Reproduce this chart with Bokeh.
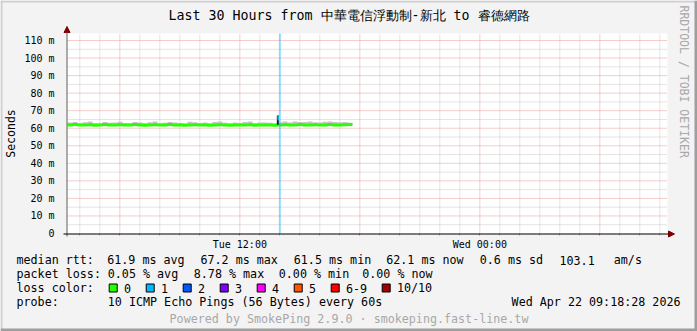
import pandas as pd
from math import pi
from bokeh.plotting import figure
from bokeh.models import (FixedTicker, Label, BoxAnnotation, Arrow, NormalHead,
                          Range1d, ColumnDataSource)
from bokeh.embed import file_html
from bokeh.resources import INLINE

# ---------------- data ----------------
range_start = "2026-04-21 03:23"
range_end = "2026-04-22 09:23"
data_start = "2026-04-21 03:23"
step_minutes = 15
y_max = 114

median_ms = [
    61.9, 62.1, 61.8, 61.9, 62.0, 61.7, 61.9, 62.1, 61.8, 61.9,
    62.0, 61.8, 61.9, 62.2, 61.8, 61.7, 61.9, 62.0, 61.8, 61.9,
    62.1, 61.9, 61.8, 61.7, 61.9, 62.0, 61.8, 61.9, 61.7, 61.8,
    62.0, 61.9, 61.7, 61.8, 61.9, 61.8, 62.0, 61.7, 61.8, 61.9,
    61.8, 61.7, 61.9, 62.0, 61.8, 61.9, 62.1, 61.8, 61.9, 62.0,
    61.8, 61.9, 62.1, 61.9, 61.8, 62.0, 62.1, 62.1]
smoke_top_ms = [
    63.2, 63.6, 62.9, 63.4, 63.8, 63.0, 62.8, 63.5, 63.1, 63.3,
    63.7, 63.0, 62.9, 63.6, 63.2, 63.0, 63.4, 63.9, 62.9, 63.1,
    63.5, 63.3, 63.0, 62.9, 63.7, 63.4, 63.0, 63.2, 62.9, 63.6,
    63.8, 63.1, 62.9, 63.3, 63.0, 63.6, 63.9, 63.0, 63.2, 63.3,
    63.1, 62.9, 63.4, 63.8, 63.3, 63.9, 63.5, 63.6, 63.8, 63.4,
    63.2, 63.7, 63.9, 63.5, 63.4, 63.6, 63.1, 62.1]
spike_time = "2026-04-21 13:54"
spike_low_ms = 62.0
spike_high_ms = 67.2
loss_time = "2026-04-21 14:00"

y_ticks = [0, 10, 20, 30, 40, 50, 60, 70, 80, 90, 100, 110]
y_tick_labels = ["0", "10 m", "20 m", "30 m", "40 m", "50 m", "60 m",
                 "70 m", "80 m", "90 m", "100 m", "110 m"]
y_minor = [5, 15, 25, 35, 45, 55, 65, 75, 85, 95, 105]
x_label_times = ["2026-04-21 12:00", "2026-04-22 00:00"]
x_tick_labels = ["Tue 12:00", "Wed 00:00"]

title_text = "Last 30 Hours from 中華電信浮動制-新北 to 睿德網路"
y_title = "Seconds"
rtt_items = ["median rtt:", "61.9 ms avg", "67.2 ms max", "61.5 ms min",
             "62.1 ms now", "0.6 ms sd", "103.1", "am/s"]
loss_items = ["packet loss:", "0.05 % avg", "8.78 % max", "0.00 % min", "0.00 % now"]
loss_names = ["0", "1", "2", "3", "4", "5", "6-9", "10/10"]
loss_colors = ["#26ff00", "#00b8ff", "#0059ff", "#7e00ff", "#ff00ff",
               "#ff5500", "#ff0000", "#a10000"]
probe_text = "10 ICMP Echo Pings (56 Bytes) every 60s"
date_text = "Wed Apr 22 09:18:28 2026"
footer_text = "Powered by SmokePing 2.9.0 · smokeping.fast-line.tw"
watermark = "RRDTOOL / TOBI OETIKER"


def ms(s):
    return float(pd.Timestamp(s).value // 10**6)


# ---------------- layout ----------------
W, H = 697, 331
FL, FR, FT, FB = 67, 667, 33, 233      # plot area inside the canvas
MONO = "DejaVu Sans Mono"
t0, t1 = ms(range_start), ms(range_end)
x_per_px = (t1 - t0) / (FR - FL)
y_per_px = y_max / (FB - FT)


def sx(cx):
    return cx


def sy(cy):
    return H - cy


p = figure(width=W, height=H, output_backend="svg", toolbar_location=None,
           x_axis_type="datetime",
           x_range=Range1d(t0 - FL * x_per_px, t1 + (W - FR) * x_per_px),
           y_range=Range1d(-(H - FB) * y_per_px, y_max + FT * y_per_px),
           min_border_left=0, min_border_right=0, min_border_top=0, min_border_bottom=0,
           background_fill_color="#f3f3f3", border_fill_color="#f3f3f3")
p.outline_line_color = None
p.grid.visible = False

# white plot area
p.add_layout(BoxAnnotation(left=t0, right=t1, bottom=0, top=y_max, fill_color="white",
                           fill_alpha=1, line_color=None, level="underlay"))

# y axis (fixed inside the canvas)
p.yaxis.fixed_location = t0
p.yaxis.bounds = (0, y_max)
p.yaxis.ticker = FixedTicker(ticks=y_ticks, minor_ticks=y_minor)
p.yaxis.major_label_overrides = {t: l for t, l in zip(y_ticks, y_tick_labels)}
p.yaxis.axis_line_color = None
p.yaxis.major_tick_line_color = None
p.yaxis.minor_tick_line_color = None
p.yaxis.major_label_standoff = 7
p.yaxis.major_label_text_font = MONO
p.yaxis.major_label_text_font_size = "10px"
p.yaxis.major_label_text_color = "black"

# x axis
six = pd.date_range("2026-04-21 06:00", "2026-04-22 06:00", freq="6h")
hours = [h for h in pd.date_range("2026-04-21 04:00", "2026-04-22 09:00", freq="h")
         if h.hour % 6 != 0]
six_ms = [float(t.value // 10**6) for t in six]
hour_ms = [float(t.value // 10**6) for t in hours]
xlab = {ms(t): l for t, l in zip(x_label_times, x_tick_labels)}
p.xaxis.fixed_location = 0
p.xaxis.bounds = (t0, t1)
p.xaxis.ticker = FixedTicker(ticks=six_ms, minor_ticks=hour_ms)
p.xaxis.major_label_overrides = {t: xlab.get(t, "") for t in six_ms}
p.xaxis.axis_line_color = None
p.xaxis.major_tick_in = 0
p.xaxis.major_tick_out = 2
p.xaxis.major_tick_line_color = "#d08080"
p.xaxis.minor_tick_in = 0
p.xaxis.minor_tick_out = 2
p.xaxis.minor_tick_line_color = "#b0b0b0"
p.xaxis.major_label_standoff = 3
p.xaxis.major_label_text_font = MONO
p.xaxis.major_label_text_font_size = "10px"
p.xaxis.major_label_text_color = "black"

# grid lines limited to the plot area
MAJ, MIN = "#e89a9a", "#c8c8c8"
p.segment(x0=hour_ms, y0=0, x1=hour_ms, y1=y_max, line_color=MIN, line_dash="1 1")
p.segment(x0=t0, y0=y_minor, x1=t1, y1=y_minor, line_color=MIN, line_dash="1 1")
p.segment(x0=six_ms, y0=0, x1=six_ms, y1=y_max, line_color=MAJ, line_dash="1 1")
p.segment(x0=t0, y0=y_ticks[1:], x1=t1, y1=y_ticks[1:], line_color=MAJ, line_dash="1 1")

# ---------------- data glyphs ----------------
times = pd.date_range(data_start, periods=len(median_ms), freq=f"{step_minutes}min")
smoke = ColumnDataSource(dict(left=times[:-1], right=times[1:],
                              bottom=median_ms[:-1], top=smoke_top_ms[:-1]))
p.quad(left="left", right="right", bottom="bottom", top="top", source=smoke,
       fill_color="#c4c4c4", line_color=None)
p.step(x=times, y=median_ms, mode="after", line_color="#26ff00", line_width=3)
st = ms(spike_time)
p.segment(x0=[st], y0=[spike_low_ms], x1=[st], y1=[spike_high_ms],
          line_color="#202020", line_width=2)
p.segment(x0=[st + 60000], y0=[spike_low_ms + 2.5], x1=[st + 60000], y1=[spike_high_ms],
          line_color="#00b8ff", line_width=1.5)
lt = ms(loss_time)
p.segment(x0=[lt], y0=[0], x1=[lt], y1=[y_max], line_color="#00b8ff", line_alpha=0.4,
          line_width=2)

# axis lines with arrows
HEAD = dict(size=6, fill_color="#800000", line_color="#800000")
p.add_layout(Arrow(x_start=sx(66.5), y_start=sy(236), x_end=sx(66.5), y_end=sy(26),
                   start_units="screen", end_units="screen",
                   line_color="#606060", line_width=1, end=NormalHead(**HEAD)))
p.add_layout(Arrow(x_start=sx(63), y_start=sy(233.5), x_end=sx(674), y_end=sy(233.5),
                   start_units="screen", end_units="screen",
                   line_color="black", line_width=1, end=NormalHead(**HEAD)))


# ---------------- texts ----------------
def lab(text, cx, cy, size, color="black", align="left", angle=0.0, font=MONO):
    p.add_layout(Label(x=sx(cx), y=sy(cy), x_units="screen", y_units="screen",
                       text=text, text_font=font, text_font_size=f"{size}px",
                       text_color=color, text_align=align, text_baseline="middle",
                       angle=angle))


def box(x0, y0, x1, y1, color, line=None):
    p.add_layout(BoxAnnotation(left=sx(x0), right=sx(x1), top=sy(y0), bottom=sy(y1),
                               left_units="screen", right_units="screen",
                               top_units="screen", bottom_units="screen",
                               fill_color=color, fill_alpha=1, line_color=line,
                               line_width=1, line_alpha=1))


lab(title_text, 348.5, 14.5, 13.3, align="center")
lab(y_title, 10, 133, 11.5, align="center", angle=pi / 2)
lab(watermark, 683.5, 5, 11.5, color="#a8a8a8", angle=-pi / 2)

LS = 11.7
row_y = [259.5, 273.5, 287.5, 301.5]
rtt_x = [16, 106.7, 200, 293.3, 385.7, 479.3, 559, 613.3]
for t, x in zip(rtt_items, rtt_x):
    lab(t, x, row_y[0], LS)
loss_x = [16, 107.3, 193.3, 278.3, 361.7]
for t, x in zip(loss_items, loss_x):
    lab(t, x, row_y[1], LS)
lab("loss color:", 16, row_y[2], LS)
bx = 108.7
for name, col in zip(loss_names, loss_colors):
    box(bx, 283.5, bx + 8, 291.5, col, line="black")
    lab(name, bx + 14.7, row_y[2], LS)
    bx += 30 + 7 * len(name)
lab("probe:", 16, row_y[3], LS)
lab(probe_text, 107.3, row_y[3], LS)
lab(date_text, 680, row_y[3], LS, align="right")
lab(footer_text, 348.5, 318.5, LS, color="#a8a8a8", align="center")

# outer shaded border
box(0, 0, 697, 2, "#cfcfcf")
box(0, 0, 2, 331, "#cfcfcf")
box(694, 0, 697, 331, "#9e9e9e")
box(0, 328, 697, 331, "#9e9e9e")

open("out.html", "w").write(file_html(p, INLINE))
